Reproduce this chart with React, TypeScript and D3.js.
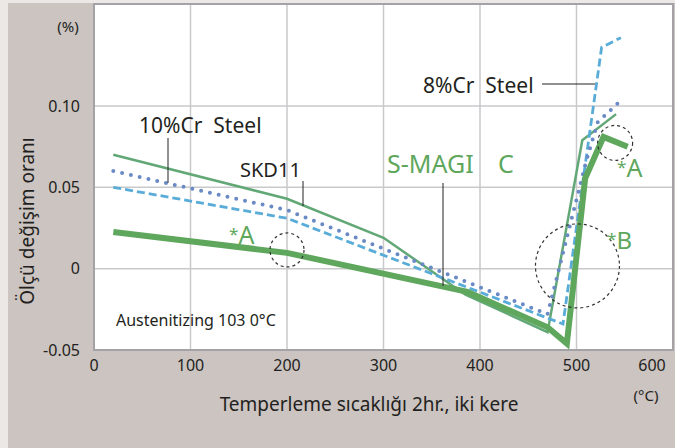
import React from "react";
import * as d3 from "d3";

// ---- data ----
const xTicks = [0, 100, 200, 300, 400, 500, 600];
const yTicks = [-0.05, 0, 0.05, 0.1];
const yTickLabels = ["-0.05", "0", "0.05", "0.10"];
const yGrid = [0, 0.05, 0.1];
const xGrid = [100, 200, 300, 400, 500];

const skd11X = [20, 200, 300, 385, 470, 506, 541];
const skd11Y = [0.07, 0.043, 0.019, -0.016, -0.039, 0.079, 0.095];

const cr10X = [20, 200, 470, 510, 522, 547];
const cr10Y = [0.06, 0.036, -0.028, 0.066, 0.09, 0.104];

const cr8X = [20, 200, 486, 526, 546];
const cr8Y = [0.05, 0.031, -0.034, 0.136, 0.142];

const smagicX = [20, 200, 387, 470, 490, 509, 528, 553];
const smagicY = [0.0226, 0.0097, -0.0143, -0.036, -0.046, 0.0556, 0.081, 0.075];

const circlesX = [200, 540, 501];
const circlesY = [0.0115, 0.0773, 0.0017];
const circlesR = [17, 17.5, 42];

const FONT = "'Noto Sans', 'Open Sans', sans-serif";

export default function App() {
  const W = 675;
  const H = 448;
  const x = d3.scaleLinear().domain([0, 600]).range([94, 673]);
  const y = d3.scaleLinear().domain([-0.05, 0.1]).range([350, 106]);
  const yTop = y.invert(4);

  const line = d3
    .line<[number, number]>()
    .x((d) => x(d[0]))
    .y((d) => y(d[1]));
  const pts = (xs: number[], ys: number[]) => xs.map((v, i) => [v, ys[i]] as [number, number]);

  const plotL = x(0);
  const plotR = x(600);
  const plotT = y(yTop);
  const plotB = y(-0.05);

  const green = "#5ea75c";
  const thinGreen = "#62a876";
  const dotted = "#6a8ac6";
  const dashed = "#59acd8";

  return (
    <svg
      width={W}
      height={H}
      style={{ position: "absolute", left: 0, top: 0 }}
      fontFamily={FONT}
    >
      <rect x={0} y={0} width={W} height={H} fill="#ebe8e5" />
      <rect x={8} y={3} width={W - 8} height={H - 3} fill="#cbc4c1" />
      <rect x={plotL} y={plotT} width={plotR - plotL} height={plotB - plotT} fill="#ffffff" />
      {/* grid */}
      {xGrid.map((g) => (
        <line key={"xg" + g} x1={x(g)} x2={x(g)} y1={plotT} y2={plotB} stroke="#c9c9cc" strokeWidth={1.5} />
      ))}
      {yGrid.map((g) => (
        <line key={"yg" + g} x1={plotL} x2={plotR} y1={y(g)} y2={y(g)} stroke="#c9c9cc" strokeWidth={1.5} />
      ))}
      <rect
        x={plotL}
        y={plotT}
        width={plotR - plotL}
        height={plotB - plotT}
        fill="none"
        stroke="#a3a2a6"
        strokeWidth={2}
      />

      {/* series */}
      <path d={line(pts(skd11X, skd11Y)) || ""} fill="none" stroke={thinGreen} strokeWidth={2.5} strokeLinejoin="miter" />
      <path
        d={line(pts(cr8X, cr8Y)) || ""}
        fill="none"
        stroke={dashed}
        strokeWidth={2.8}
        strokeDasharray="8 4"
      />
      <path
        d={line(pts(cr10X, cr10Y)) || ""}
        fill="none"
        stroke={dotted}
        strokeWidth={4}
        strokeDasharray="0 9"
        strokeLinecap="round"
      />
      <path d={line(pts(smagicX, smagicY)) || ""} fill="none" stroke={green} strokeWidth={6} strokeLinejoin="miter" />

      {/* dashed circles */}
      {circlesX.map((cx, i) => (
        <circle
          key={"c" + i}
          cx={x(cx)}
          cy={y(circlesY[i])}
          r={circlesR[i]}
          fill="none"
          stroke="#333"
          strokeWidth={1.2}
          strokeDasharray="3 3"
        />
      ))}

      {/* leader lines */}
      <line x1={168} x2={168} y1={138} y2={183} stroke="#222" strokeWidth={1} />
      <line x1={303} x2={303} y1={181} y2={206} stroke="#222" strokeWidth={1} />
      <line x1={443} x2={443} y1={183} y2={286} stroke="#222" strokeWidth={1} />
      <line x1={542} x2={595} y1={84} y2={84} stroke="#222" strokeWidth={1} />

      {/* tick labels */}
      {yTicks.map((t, i) => (
        <text key={"yt" + t} x={80} y={y(t)} dy="0.36em" textAnchor="end" fontSize={16} fill="#231f20">
          {yTickLabels[i]}
        </text>
      ))}
      {xTicks.map((t) => (
        <text
          key={"xt" + t}
          x={t === 600 ? x(t) - 21 : x(t)}
          y={371}
          textAnchor="middle"
          fontSize={16}
          fill="#231f20"
        >
          {t}
        </text>
      ))}
      <text x={68} y={32} textAnchor="middle" fontSize={15} fill="#231f20">(%)</text>
      <text x={646} y={401} textAnchor="middle" fontSize={15} fill="#231f20">(°C)</text>

      {/* axis titles */}
      <text x={369} y={411} textAnchor="middle" fontSize={19} fill="#231f20">
        Temperleme sıcaklığı 2hr., iki kere
      </text>
      <text
        transform="translate(34,221) rotate(-90)"
        textAnchor="middle"
        fontSize={19}
        fill="#231f20"
      >
        Ölçü değişim oranı
      </text>

      {/* labels */}
      <text x={139} y={133} fontSize={21} fill="#231f20" xmlSpace="preserve">10%Cr  Steel</text>
      <text x={240} y={177} fontSize={20} fill="#231f20">SKD11</text>
      <text x={423} y={93} fontSize={21} fill="#231f20" xmlSpace="preserve">8%Cr  Steel</text>
      <text x={387} y={173} fontSize={25} fill={green}>S-MAGI</text>
      <text x={498} y={173} fontSize={25} fill={green}>C</text>
      <text x={116} y={326} fontSize={16} fill="#231f20">Austenitizing 103 0°C</text>

      <text x={229} y={244} fill={green}>
        <tspan fontSize={17} dy={-4}>*</tspan>
        <tspan fontSize={25} dy={4}>A</tspan>
      </text>
      <text x={617} y={177} fill={green}>
        <tspan fontSize={17} dy={-4}>*</tspan>
        <tspan fontSize={25} dy={4}>A</tspan>
      </text>
      <text x={607} y={249} fill={green}>
        <tspan fontSize={17} dy={-4}>*</tspan>
        <tspan fontSize={24} dy={4}>B</tspan>
      </text>
    </svg>
  );
}
